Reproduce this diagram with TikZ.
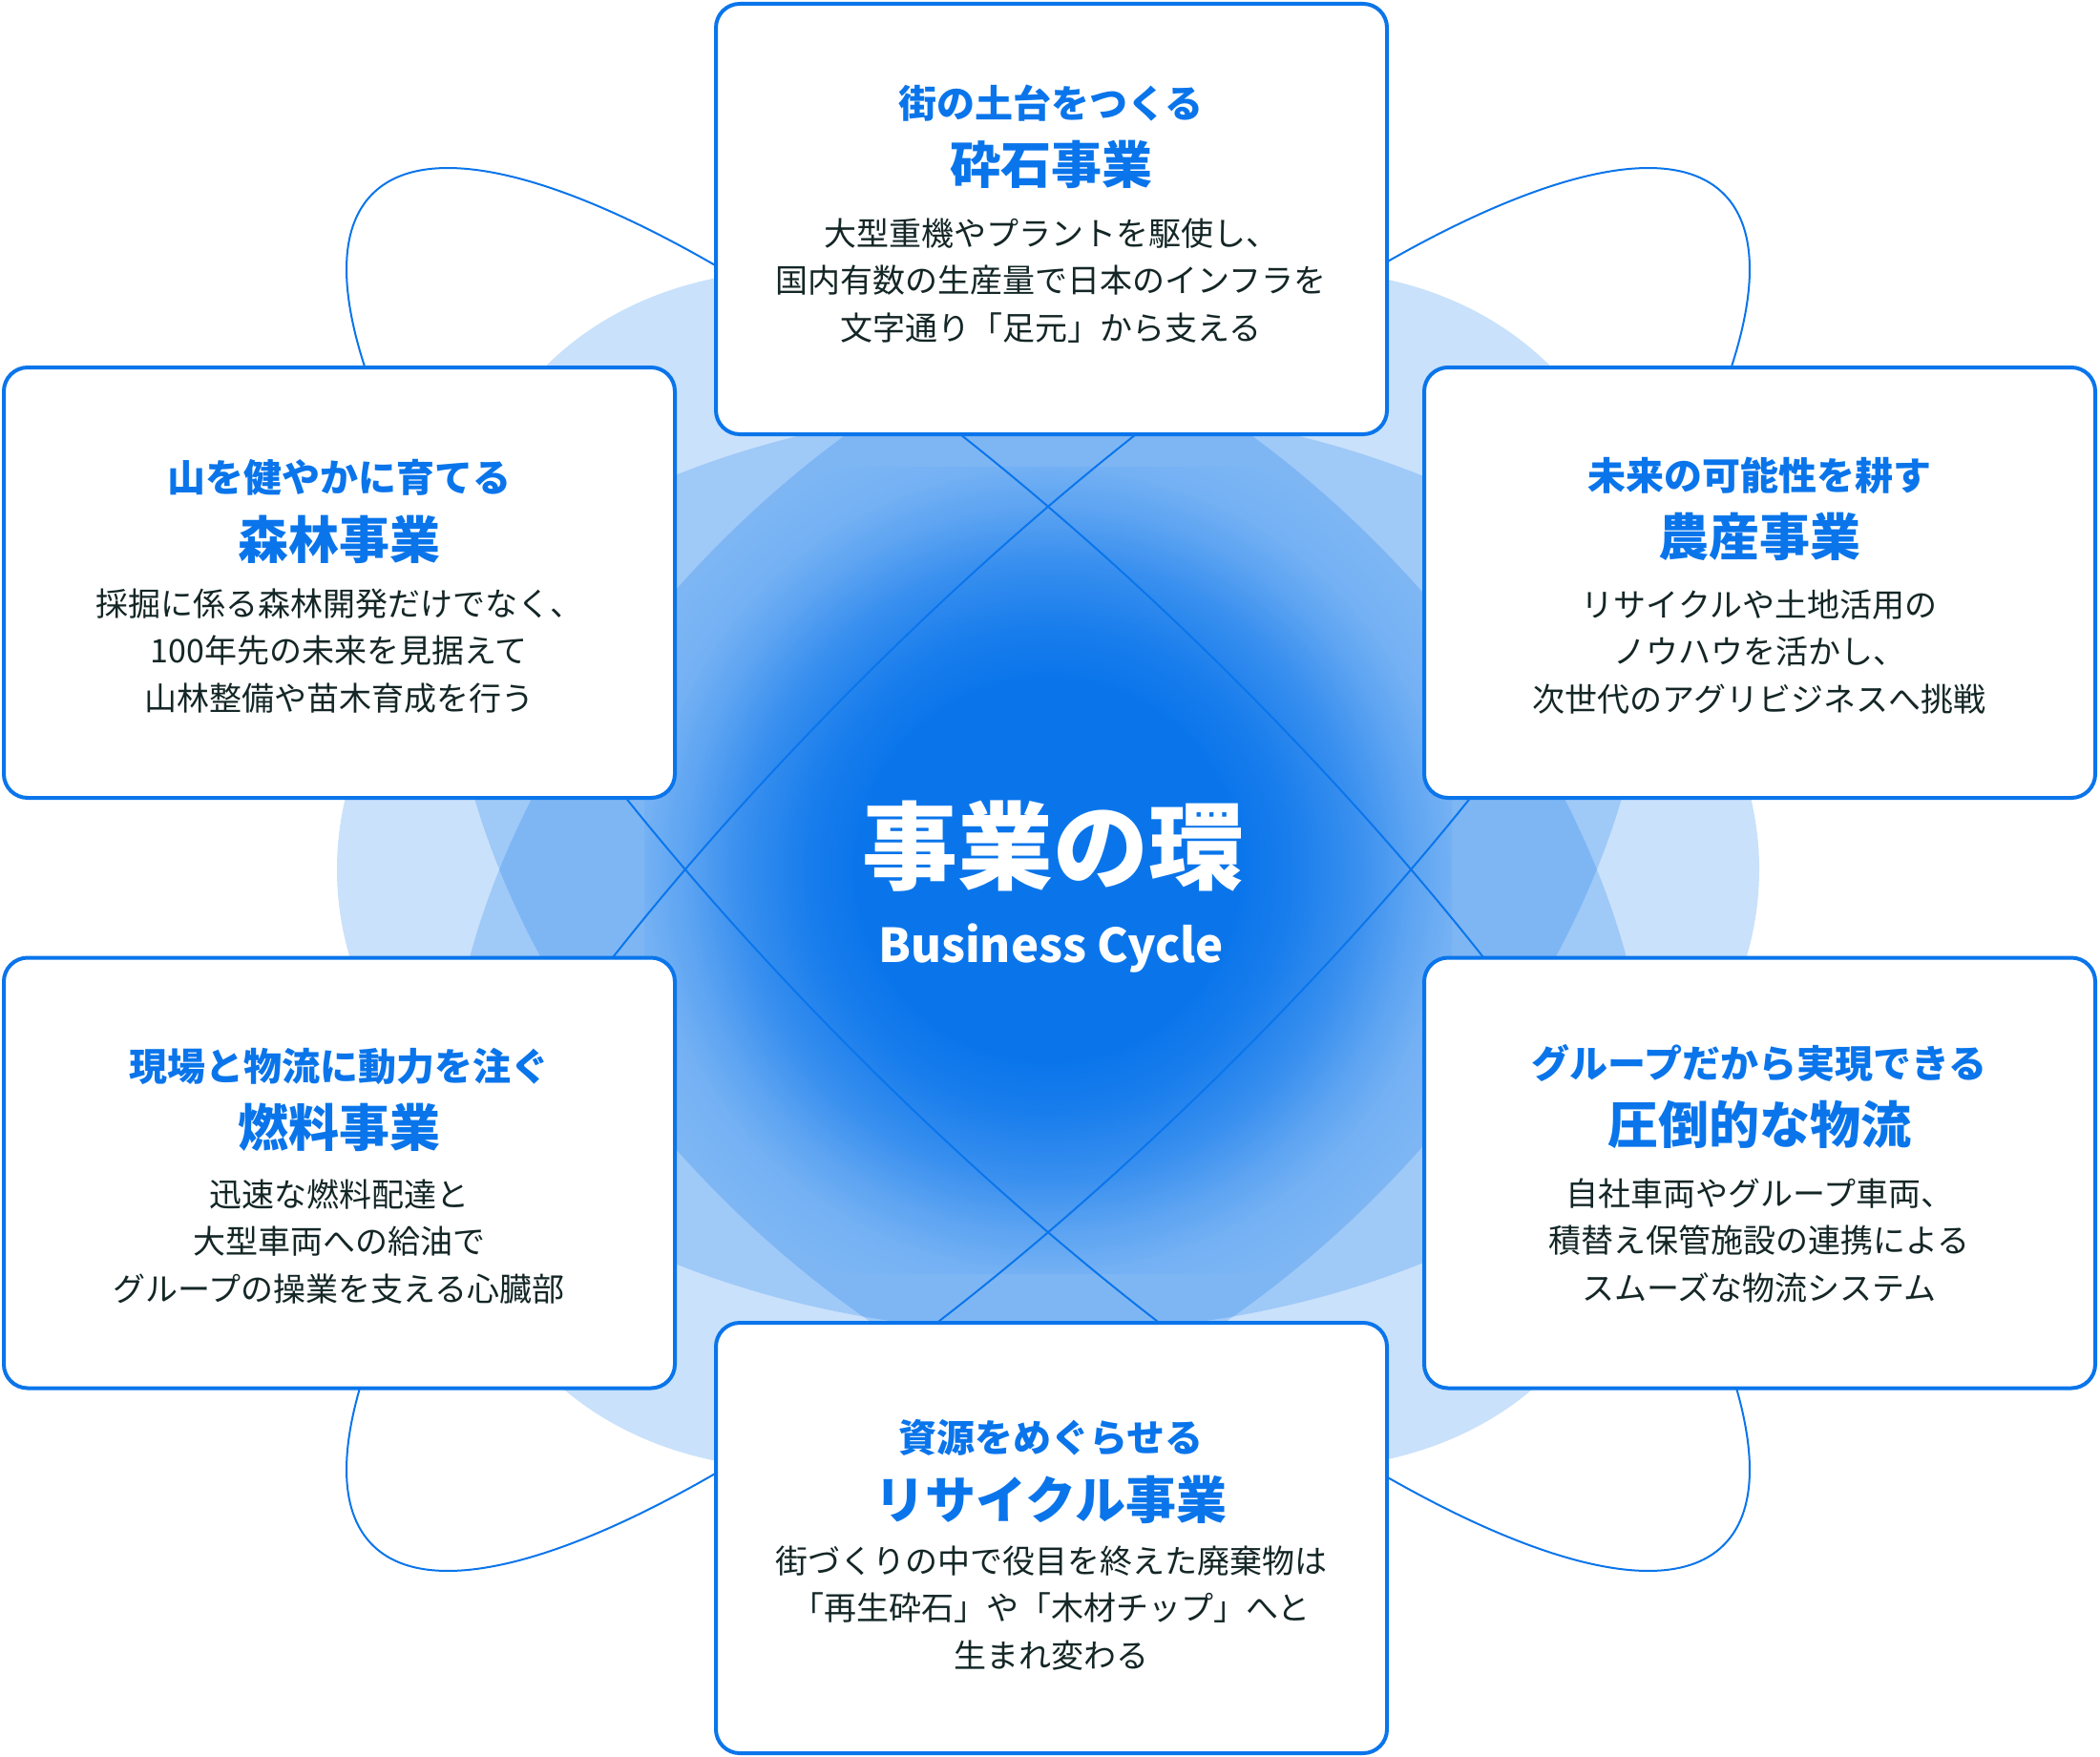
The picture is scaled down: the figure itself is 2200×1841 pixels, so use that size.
\documentclass[tikz,border=0pt]{standalone}
\usepackage{fontspec}
\usetikzlibrary{fadings}
\newfontfamily\jp{Noto Sans CJK JP}
\definecolor{cblue}{HTML}{0A75EB}
\definecolor{ink}{HTML}{142626}
\pgfdeclareradialshading{glowshade}{\pgfpointorigin}{color(0bp)=(pgftransparent!0); color(10.4bp)=(pgftransparent!0); color(13.4bp)=(pgftransparent!14); color(16.9bp)=(pgftransparent!41); color(19.8bp)=(pgftransparent!72); color(21.9bp)=(pgftransparent!90); color(25bp)=(pgftransparent!100); color(50bp)=(pgftransparent!100)}
\pgfdeclarefading{glow}{\pgfuseshading{glowshade}}
\begin{document}
\begin{tikzpicture}[x=1pt,y=-1pt,
    card/.style={draw=cblue,line width=4pt,fill=white,rounded corners=25pt,minimum width=703pt,minimum height=451pt,inner sep=0pt},
    subline/.style={text=cblue,font=\jp\bfseries\fontsize{40}{48}\selectfont,inner sep=0pt},
    ttl/.style={text=cblue,font=\jp\bfseries\fontsize{53}{60}\selectfont,inner sep=0pt},
    body/.style={text=ink,font=\jp\fontsize{34}{49.5}\selectfont,align=center,inner sep=0pt}]
    \useasboundingbox (0,0) rectangle (2200,1841);
    \coordinate (c) at (1098,911);
    % overlapping rings behind the cards
    \foreach \a in {0,45,135}
    {
    \fill[cblue,fill opacity=0.22,rotate around={\a:(c)}] (c) ellipse [x radius=745,y radius=485];
    }
    \begin{scope}
    \clip (675,489) rectangle (1521,1334);
    \fill[cblue,path fading=glow] (c) circle [radius=480];
    \end{scope}
    \foreach \a in {45,135}
    {
    \draw[cblue,line width=2pt,rotate around={\a:(c)}] (c) ellipse [x radius=1001,y radius=279];
    }
    % cards
    \node[card] (saiseki) at (1101.5,229.5) {};
    \node[card] (shinrin) at (355.5,610.5) {};
    \node[card] (nousan) at (1843.5,610.5) {};
    \node[card] (nenryou) at (355.5,1229) {};
    \node[card] (butsuryu) at (1843.5,1229) {};
    \node[card] (recycle) at (1101.5,1611.5) {};
    \node[subline] (saiseki-sub) at (1101,108) {街の土台をつくる};
    \node[ttl] (saiseki-ttl) at (1101,172) {砕石事業};
    \node[body] (saiseki-body) at (1101,294) {大型重機やプラントを駆使し、\\国内有数の生産量で日本のインフラを\\文字通り「足元」から支える};
    \node[subline] (shinrin-sub) at (355,500) {山を健やかに育てる};
    \node[ttl] (shinrin-ttl) at (355,565) {森林事業};
    \node[body] (shinrin-body) at (355,682) {採掘に係る森林開発だけでなく、\\100年先の未来を見据えて\\山林整備や苗木育成を行う};
    \node[subline] (nousan-sub) at (1843,498) {未来の可能性を耕す};
    \node[ttl] (nousan-ttl) at (1843,562) {農産事業};
    \node[body] (nousan-body) at (1843,683) {リサイクルや土地活用の\\ノウハウを活かし、\\次世代のアグリビジネスへ挑戦};
    \node[subline] (nenryou-sub) at (355,1117) {現場と物流に動力を注ぐ};
    \node[ttl] (nenryou-ttl) at (355,1181) {燃料事業};
    \node[body] (nenryou-body) at (355,1301) {迅速な燃料配達と\\大型車両への給油で\\グループの操業を支える心臓部};
    \node[subline] (butsuryu-sub) at (1843,1114) {グループだから実現できる};
    \node[ttl] (butsuryu-ttl) at (1843,1178) {圧倒的な物流};
    \node[body] (butsuryu-body) at (1843,1300) {自社車両やグループ車両、\\積替え保管施設の連携による\\スムーズな物流システム};
    \node[subline] (recycle-sub) at (1101,1506) {資源をめぐらせる};
    \node[ttl] (recycle-ttl) at (1101,1571) {リサイクル事業};
    \node[body] (recycle-body) at (1101,1685) {街づくりの中で役目を終えた廃棄物は\\「再生砕石」や「木材チップ」へと\\生まれ変わる};
    % center
    \node[text=white,font=\jp\bfseries\fontsize{100}{110}\selectfont,inner sep=0pt] (wa) at (1103,887) {事業の環};
    \node[text=white,font=\jp\bfseries\fontsize{49}{60}\selectfont,inner sep=0pt] (wa-en) at (1101,993) {Business Cycle};
\end{tikzpicture}
\end{document}
